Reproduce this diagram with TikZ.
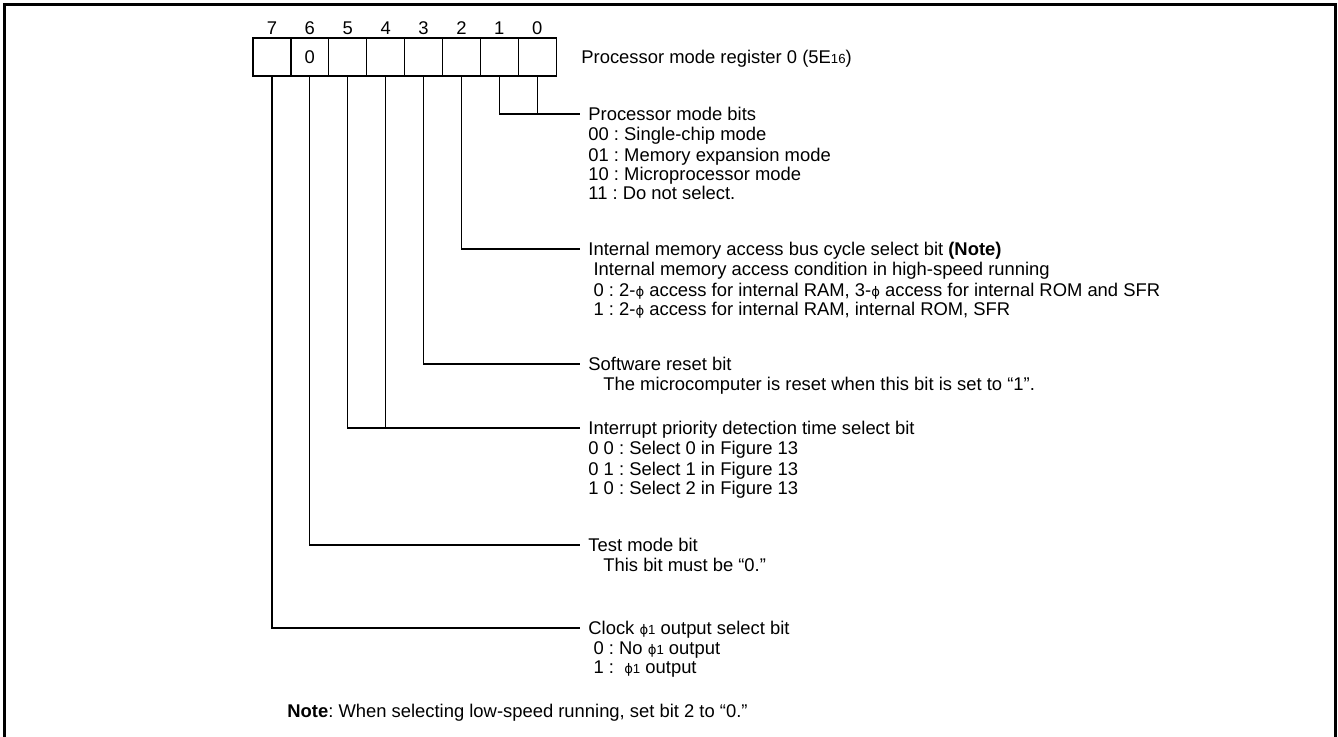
\documentclass[tikz,border=0pt]{standalone}
\usepackage{fontspec}
\setmainfont{Liberation Sans}
\newfontfamily\phifont{DejaVu Sans}
\usetikzlibrary{positioning, calc}
\frenchspacing
\newcommand{\smalltxt}[1]{{\fontsize{6.6}{6.6}\selectfont #1}}
\newcommand{\phis}{{\phifont\fontsize{6.6}{6.6}\selectfont ϕ}}
\tikzset{
    bitcell/.style={
        rectangle, draw=black, line width=0.65pt,
        minimum width=18.95pt, minimum height=19pt,
        inner sep=0pt, text height=6.6pt, text depth=0pt
    },
    bitnum/.style={inner sep=0pt, text height=6.6pt, text depth=0pt},
    head/.style={
        anchor=west, inner xsep=4pt, inner ysep=0pt,
        text height=6.6pt, text depth=0pt
    },
    desc/.style={align=left, inner xsep=4pt, inner ysep=0pt},
    lead/.style={draw=black, line width=0.55pt},
    frame/.style={draw=black, line width=1.4pt}
}

\begin{document}
\begin{tikzpicture}[x=0.5pt, y=-0.5pt, font=\fontsize{9.2}{9.5}\selectfont]
    \useasboundingbox (0,0) rectangle (1338,736);
    \draw[frame] (4.5,740) -- (4.5,4.5) -- (1335.5,4.5) -- (1335.5,740);

    % register cells and bit numbers
    \foreach \b/\v [count=\i from 0] in {7/,6/0,5/,4/,3/,2/,1/,0/} {
        \node[bitcell] (c\b) at (271.95+37.9*\i, 57) {\v};
        \node[bitnum] (n\b) at (271.95+37.9*\i, 28) {\b};
    }
    \node[head] (title) at (573, 57) {Processor mode register 0 (5E\smalltxt{16})};

    % bit descriptions
    \node[head] (h10) at (580, 114) {Processor mode bits};
    \node[desc, below right=2.85pt and 0pt of h10.south west] (d10)
        {\strut 00 : Single-chip mode\\
         01 : Memory expansion mode\\
         10 : Microprocessor mode\\
         11 : Do not select.};

    \node[head] (h2) at (580, 249) {Internal memory access bus cycle select bit \textbf{(Note)}};
    \node[desc, below right=2.85pt and 0pt of h2.south west] (d2)
        {\strut\hspace*{2.6pt}Internal memory access condition in high-speed running\\
         \hspace*{2.6pt}0 : 2-\phis{} access for internal RAM, 3-\phis{} access for internal ROM and SFR\\
         \hspace*{2.6pt}1 : 2-\phis{} access for internal RAM, internal ROM, SFR};

    \node[head] (h3) at (580, 364) {Software reset bit};
    \node[desc, below right=2.85pt and 0pt of h3.south west] (d3)
        {\strut\hspace*{7.5pt}The microcomputer is reset when this bit is set to “1”.};

    \node[head] (h54) at (580, 428) {Interrupt priority detection time select bit};
    \node[desc, below right=2.85pt and 0pt of h54.south west] (d54)
        {\strut 0 0 : Select 0 in Figure 13\\
         0 1 : Select 1 in Figure 13\\
         1 0 : Select 2 in Figure 13};

    \node[head] (h6) at (580, 545) {Test mode bit};
    \node[desc, below right=2.85pt and 0pt of h6.south west] (d6)
        {\strut\hspace*{7.5pt}This bit must be “0.”};

    \node[head] (h7) at (580, 628) {Clock \phis\smalltxt{1} output select bit};
    \node[desc, below right=2.85pt and 0pt of h7.south west] (d7)
        {\strut\hspace*{2.6pt}0 : No \phis\smalltxt{1} output\\
         \hspace*{2.6pt}1 : \ \phis\smalltxt{1} output};

    \node[head, inner xsep=0pt] (note) at (287, 711)
        {\textbf{Note}: When selecting low-speed running, set bit 2 to “0.”};

    % leader lines
    \draw[lead] (c1.south) |- (h10.west);
    \draw[lead] (c0.south) -- (c0.south |- h10.west);
    \draw[lead] (c2.south) |- (h2.west);
    \draw[lead] (c3.south) |- (h3.west);
    \draw[lead] (c5.south) |- (h54.west);
    \draw[lead] (c4.south) -- (c4.south |- h54.west);
    \draw[lead] (c6.south) |- (h6.west);
    \draw[lead] (c7.south) |- (h7.west);
\end{tikzpicture}
\end{document}
